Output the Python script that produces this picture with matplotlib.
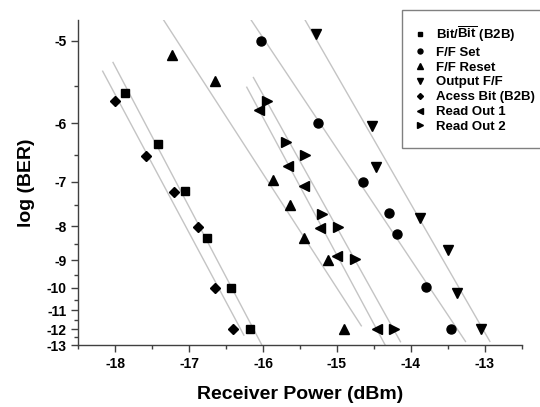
import matplotlib
matplotlib.use("Agg")
import matplotlib.pyplot as plt
import numpy as np

plt.rcParams['font.family'] = ['Liberation Sans', 'DejaVu Sans']
plt.rcParams['font.weight'] = 'bold'
plt.rcParams['axes.unicode_minus'] = False
plt.rcParams['mathtext.fontset'] = 'custom'
plt.rcParams['mathtext.rm'] = 'Liberation Sans:bold'
plt.rcParams['mathtext.bf'] = 'Liberation Sans:bold'

# receiver power (dBm) and log(BER) for each measurement
b2b_x = [-17.87, -17.42, -17.06, -16.76, -16.43, -16.17]
b2b_y = [-5.59, -6.32, -7.18, -8.31, -10.0, -12.0]

ffset_x = [-16.03, -15.25, -14.65, -14.30, -14.19, -13.80, -13.46]
ffset_y = [-5.0, -6.0, -7.0, -7.67, -8.20, -9.97, -12.0]

ffreset_x = [-17.23, -16.65, -15.87, -15.63, -15.44, -15.12, -14.90]
ffreset_y = [-5.15, -5.45, -6.97, -7.48, -8.33, -8.99, -12.0]

outff_x = [-15.28, -14.53, -14.47, -13.88, -13.50, -13.37, -13.05]
outff_y = [-4.93, -6.05, -6.72, -7.79, -8.67, -10.2, -12.0]

access_x = [-18.01, -17.59, -17.21, -16.88, -16.65, -16.41]
access_y = [-5.70, -6.52, -7.21, -8.02, -10.0, -12.0]

read1_x = [-16.06, -15.66, -15.45, -15.23, -15.00, -14.46]
read1_y = [-5.82, -6.69, -7.09, -8.04, -8.85, -12.0]

read2_x = [-15.95, -15.69, -15.43, -15.20, -14.99, -14.76, -14.23]
read2_y = [-5.69, -6.29, -6.51, -7.69, -8.02, -8.96, -12.0]

# x range covered by each fitted line
b2b_fit = [-18.03, -16.02]
ffset_fit = [-16.17, -13.26]
ffreset_fit = [-17.37, -14.67]
outff_fit = [-15.43, -12.93]
access_fit = [-18.17, -16.26]
read1_fit = [-16.22, -14.34]
read2_fit = [-16.13, -14.14]

labels = ['Bit/$\\mathrm{\\overline{Bit}}$ (B2B)', 'F/F Set', 'F/F Reset',
          'Output F/F', 'Acess Bit (B2B)', 'Read Out 1', 'Read Out 2']
yticks = [-5, -6, -7, -8, -9, -10, -11, -12, -13]


def fwd(v):
    v = np.asarray(v, dtype=float)
    with np.errstate(divide='ignore', invalid='ignore'):
        return -1.0 / v


def inv(t):
    t = np.asarray(t, dtype=float)
    with np.errstate(divide='ignore', invalid='ignore'):
        return -1.0 / t


fig = plt.figure(figsize=(5.4, 4.07), dpi=100)
ax = fig.add_axes([0.145, 0.1523, 0.821, 0.7986])
ax.set_yscale('function', functions=(fwd, inv))

series = [
    (b2b_x, b2b_y, b2b_fit, 's', 6),
    (ffset_x, ffset_y, ffset_fit, 'o', 6.5),
    (ffreset_x, ffreset_y, ffreset_fit, '^', 7),
    (outff_x, outff_y, outff_fit, 'v', 7),
    (access_x, access_y, access_fit, 'D', 5.5),
    (read1_x, read1_y, read1_fit, '<', 7),
    (read2_x, read2_y, read2_fit, '>', 7),
]

for (xs, ys, span, mk, ms), lab in zip(series, labels):
    # linear fit in the transformed (1/log BER) space, straight on screen
    p = np.polyfit(xs, fwd(ys), 1)
    xx = np.array(span)
    ax.plot(xx, inv(np.polyval(p, xx)), '-', color='#c4c4c4', lw=1.0, zorder=1)
    ax.plot(xs, ys, linestyle='none', marker=mk, ms=ms, color='black',
            label=lab, zorder=3)

ax.set_xlim(-18.5, -12.5)
ax.set_ylim(-13, -4.8)
ax.set_xticks([-18, -17, -16, -15, -14, -13])
ax.set_xticks(np.arange(-18.5, -12.4, 1.0), minor=True)
ax.set_yticks(yticks)
ax.set_yticklabels([str(v) for v in yticks])
ax.set_yticks([v - 0.5 for v in yticks[:-1]], minor=True)
ax.yaxis.set_minor_formatter(plt.NullFormatter())

for s in ['top', 'right']:
    ax.spines[s].set_visible(False)
for s in ['left', 'bottom']:
    ax.spines[s].set_color('#404040')
    ax.spines[s].set_linewidth(1.0)

ax.tick_params(which='major', direction='out', length=5, width=1,
               color='#404040', labelsize=10)
ax.tick_params(which='minor', direction='out', length=3, width=1,
               color='#404040')

ax.set_xlabel('Receiver Power (dBm)', fontsize=14, fontweight='bold', labelpad=11)
ax.set_ylabel('log (BER)', fontsize=14, fontweight='bold', labelpad=8)

leg = ax.legend(loc='upper left', bbox_to_anchor=(402 / 540, 1 - 10 / 407),
                bbox_transform=fig.transFigure, borderaxespad=0,
                fontsize=9.5, markerscale=0.55, handlelength=0.6,
                handletextpad=0.9, labelspacing=0.2, borderpad=1.1,
                fancybox=False, framealpha=1)
leg.get_frame().set_edgecolor('#808080')
leg.get_frame().set_linewidth(1.0)

fig.savefig('out.png', dpi=100)
